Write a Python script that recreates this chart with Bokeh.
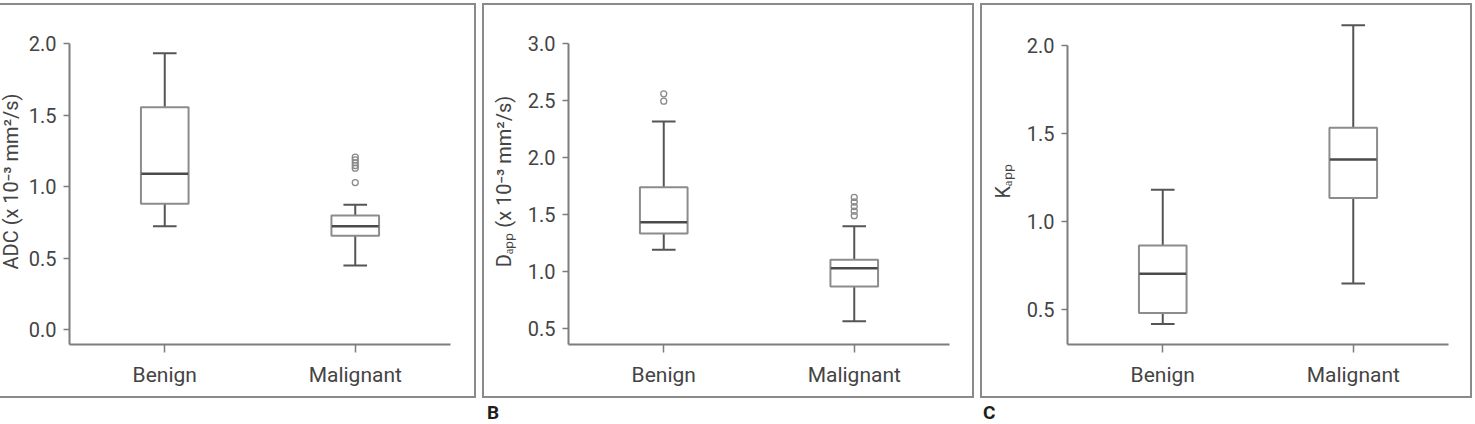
from bokeh.plotting import figure
from bokeh.models import FixedTicker, PrintfTickFormatter, ColumnDataSource, Div
from bokeh.transform import dodge
from bokeh.layouts import row, column
from bokeh.embed import file_html
from bokeh.resources import INLINE

categories = ["Benign", "Malignant"]

# Panel A: ADC
adc_whisker_low = [0.723, 0.448]
adc_q1 = [0.880, 0.656]
adc_median = [1.090, 0.723]
adc_q3 = [1.557, 0.798]
adc_whisker_high = [1.935, 0.873]
adc_out_cat = ["Malignant"] * 6
adc_out_val = [1.207, 1.188, 1.167, 1.148, 1.130, 1.029]
adc_ticks = [0.0, 0.5, 1.0, 1.5, 2.0]

# Panel B: Dapp
dapp_whisker_low = [1.193, 0.567]
dapp_q1 = [1.336, 0.871]
dapp_median = [1.435, 1.032]
dapp_q3 = [1.742, 1.105]
dapp_whisker_high = [2.318, 1.400]
dapp_out_cat = ["Benign", "Benign", "Malignant", "Malignant", "Malignant", "Malignant", "Malignant"]
dapp_out_val = [2.561, 2.497, 1.652, 1.612, 1.572, 1.532, 1.492]
dapp_ticks = [0.5, 1.0, 1.5, 2.0, 2.5, 3.0]

# Panel C: Kapp
kapp_whisker_low = [0.418, 0.648]
kapp_q1 = [0.480, 1.133]
kapp_median = [0.703, 1.352]
kapp_q3 = [0.864, 1.532]
kapp_whisker_high = [1.180, 2.114]
kapp_out_cat = []
kapp_out_val = []
kapp_ticks = [0.5, 1.0, 1.5, 2.0]

panel_letters = ["", "B", "C"]

FONT = "Roboto"
TEXT_COLOR = "#444444"
AXIS_COLOR = "#7d7d7d"
BORDER_CSS = {"outline": "2px solid #8a8a8a", "outline-offset": "-5px"}


def make_panel(width, left, right, y_start, y_end, ticks, ylabel,
               wlo, q1, med, q3, whi, out_cat, out_val, label_standoff=9,
               extra_styles=None):
    p = figure(width=width, height=401, x_range=categories,
               y_range=(y_start, y_end), output_backend="svg",
               toolbar_location=None, min_border_left=left,
               min_border_right=right, min_border_top=18,
               min_border_bottom=57)
    p.background_fill_color = None
    p.border_fill_color = None
    p.outline_line_color = None
    p.xgrid.visible = False
    p.ygrid.visible = False
    p.x_range.range_padding = 0
    st = dict(BORDER_CSS)
    if extra_styles:
        st.update(extra_styles)
    p.styles = st

    src = ColumnDataSource(dict(cat=categories, wlo=wlo, q1=q1, med=med, q3=q3, whi=whi))
    # whiskers
    p.segment(x0="cat", x1="cat", y0="q3", y1="whi", source=src,
              line_color="#555555", line_width=2)
    p.segment(x0="cat", x1="cat", y0="wlo", y1="q1", source=src,
              line_color="#555555", line_width=2)
    # caps
    for yf in ("whi", "wlo"):
        p.segment(x0=dodge("cat", -0.062, range=p.x_range),
                  x1=dodge("cat", 0.062, range=p.x_range),
                  y0=yf, y1=yf, source=src, line_color="#555555", line_width=2)
    # boxes
    p.vbar(x="cat", bottom="q1", top="q3", width=0.25, source=src,
           fill_color="white", line_color="#8c8c8c", line_width=2)
    # median
    p.segment(x0=dodge("cat", -0.123, range=p.x_range),
              x1=dodge("cat", 0.123, range=p.x_range),
              y0="med", y1="med", source=src, line_color="#4a4a4a", line_width=2.5)
    # outliers
    if out_val:
        p.scatter(x=out_cat, y=out_val, marker="circle", size=6,
                  fill_color="white", fill_alpha=0.0,
                  line_color="#8a8a8a", line_width=1.3)

    for ax in (p.xaxis[0], p.yaxis[0]):
        ax.axis_line_color = AXIS_COLOR
        ax.axis_line_width = 2
        ax.major_tick_line_color = AXIS_COLOR
        ax.major_tick_line_width = 1.5
        ax.minor_tick_line_color = None
        ax.major_tick_in = 0
        ax.major_label_text_font = FONT
        ax.major_label_text_color = TEXT_COLOR
        ax.axis_label_text_font = FONT
        ax.axis_label_text_color = TEXT_COLOR
        ax.axis_label_text_font_style = "normal"

    xa = p.xaxis[0]
    xa.major_tick_out = 8
    xa.major_label_standoff = 10
    xa.major_label_text_font_size = "21px"

    ya = p.yaxis[0]
    ya.ticker = FixedTicker(ticks=ticks)
    ya.formatter = PrintfTickFormatter(format="%.1f")
    ya.bounds = (y_start, ticks[-1])
    ya.major_tick_out = 6
    ya.major_label_standoff = 7
    ya.major_label_text_font_size = "20px"
    ya.axis_label = ylabel
    ya.axis_label_text_font_size = "20px"
    ya.axis_label_standoff = label_standoff
    return p


pa = make_panel(485, 75, 29, -0.105, 2.178, adc_ticks, "ADC (x 10⁻³ mm²/s)",
                adc_whisker_low, adc_q1, adc_median, adc_q3, adc_whisker_high,
                adc_out_cat, adc_out_val, label_standoff=3,
                extra_styles={"margin-left": "-6px"})
pb = make_panel(498, 89, 28, 0.362, 3.222, dapp_ticks, "Dₐₚₚ (x 10⁻³ mm²/s)",
                dapp_whisker_low, dapp_q1, dapp_median, dapp_q3, dapp_whisker_high,
                dapp_out_cat, dapp_out_val)
pc = make_panel(498, 90, 27, 0.301, 2.153, kapp_ticks, "Kₐₚₚ",
                kapp_whisker_low, kapp_q1, kapp_median, kapp_q3, kapp_whisker_high,
                kapp_out_cat, kapp_out_val)


def letter_div(txt, width, pad):
    html = ('<div style="margin:0;padding:4px 0 0 %dpx;font-family:Roboto;'
            'font-weight:bold;font-size:19px;line-height:16px;color:#1e1e1e">%s</div>'
            % (pad, txt))
    return Div(text=html, width=width, height=23, margin=0)


letters = row(letter_div(panel_letters[0], 479, 0),
              letter_div(panel_letters[1], 498, 8),
              letter_div(panel_letters[2], 498, 6), spacing=0)

layout = column(row(pa, pb, pc, spacing=0), letters, spacing=0)
open("out.html", "w").write(file_html(layout, INLINE))
